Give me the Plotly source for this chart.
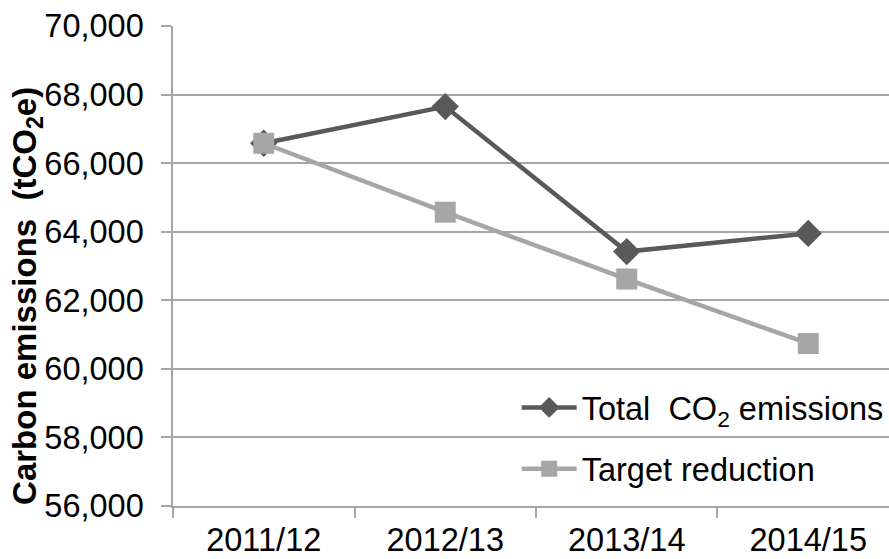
import plotly.graph_objects as go

# Financial years and emissions (tCO2e)
years = ["2011/12", "2012/13", "2013/14", "2014/15"]
total_emissions = [66580, 67650, 63420, 63950]
target_reduction = [66580, 64570, 62620, 60740]

y_ticks = [56000, 58000, 60000, 62000, 64000, 66000, 68000, 70000]
y_title = "<b>Carbon emissions\u00a0\u00a0(tCO<sub>2</sub>e)</b>"

FONT = "Liberation Sans, Arial, sans-serif"
GRID = "#A6A6A6"
FS = 32.5

fig = go.Figure()

fig.add_trace(go.Scatter(
    x=years, y=total_emissions, mode="lines+markers",
    name="Total\u00a0\u00a0CO<sub>2</sub> emissions",
    legendgroup="total",
    line=dict(color="#595959", width=4.5),
    marker=dict(symbol="diamond", size=21, color="#595959"),
))
fig.add_trace(go.Scatter(
    x=years, y=target_reduction, mode="lines+markers",
    name="Target reduction",
    legendgroup="target",
    line=dict(color="#A6A6A6", width=4.5),
    marker=dict(symbol="square", size=21, color="#A6A6A6"),
))

fig.update_layout(
    width=889, height=559,
    margin=dict(l=173, r=0, t=26, b=53),
    paper_bgcolor="white", plot_bgcolor="white",
    font=dict(family=FONT, size=FS, color="#000000"),
    showlegend=True,
    legend=dict(
        x=0.48, y=0.263, xanchor="left", yanchor="top",
        bgcolor="rgba(0,0,0,0)", borderwidth=0,
        font=dict(size=FS, family=FONT, color="#000000"),
        tracegroupgap=16, itemwidth=55,
    ),
    annotations=[dict(
        text=y_title, textangle=-90,
        xref="paper", yref="paper", x=-0.204, y=0.4375,
        xanchor="center", yanchor="middle", showarrow=False,
        font=dict(size=33, family=FONT, color="#000000"),
    )],
)

fig.update_xaxes(
    type="category", range=[-0.5, 3.445], automargin=False,
    showgrid=False, showline=True, linecolor=GRID, linewidth=1.5,
    ticks="outside", tickson="boundaries", ticklen=10, tickcolor=GRID, tickwidth=1.5,
    ticklabelstandoff=4,
    tickfont=dict(size=FS, family=FONT, color="#000000"),
    zeroline=False,
)

fig.update_yaxes(
    range=[56000, 70000], tickvals=y_ticks, automargin=False,
    tickformat=",d",
    showgrid=True, gridcolor=GRID, gridwidth=1.5,
    showline=True, linecolor=GRID, linewidth=1.5,
    ticks="outside", ticklen=10, tickcolor=GRID, tickwidth=1.5,
    ticklabelstandoff=11,
    tickfont=dict(size=FS, family=FONT, color="#000000"),
    zeroline=False,
)

fig.write_html("out.html")
